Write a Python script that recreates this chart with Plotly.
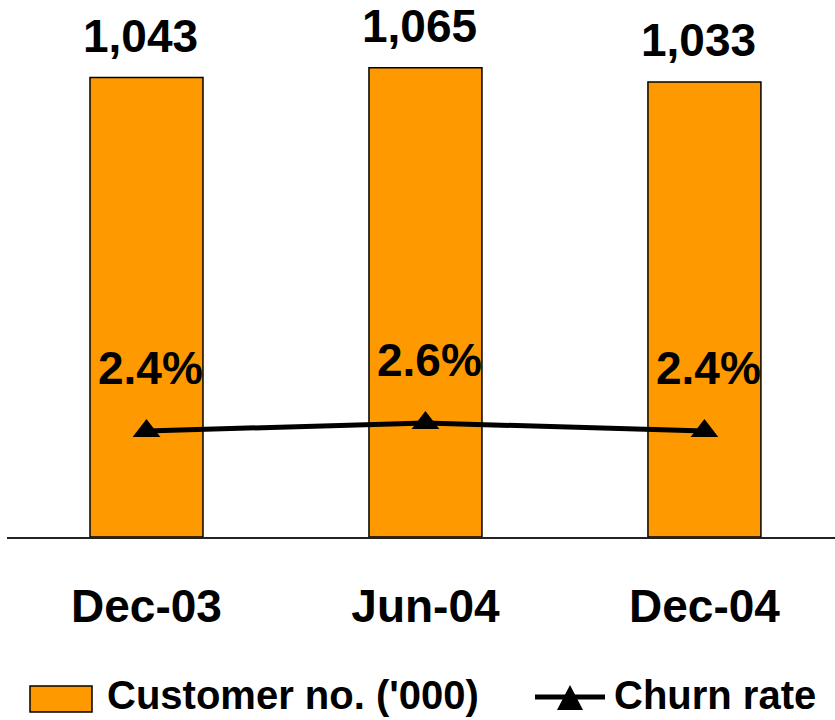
import plotly.graph_objects as go

# Data
periods = ["Dec-03", "Jun-04", "Dec-04"]
customers = [1043, 1065, 1033]          # '000
churn_rate = [2.4, 2.6, 2.4]            # %
customer_labels = ["1,043", "1,065", "1,033"]
churn_labels = ["2.4%", "2.6%", "2.4%"]

ORANGE = "#FF9900"
FONT = "Liberation Sans, Arial, sans-serif"

fig = go.Figure()

fig.add_trace(go.Bar(
    x=periods, y=customers, name="Customer no. ('000)",
    marker=dict(color=ORANGE, line=dict(color="black", width=1.5)),
    width=0.405, yaxis="y", showlegend=False,
))

fig.add_trace(go.Scatter(
    x=periods, y=churn_rate, name="Churn rate", mode="lines+markers",
    line=dict(color="black", width=5),
    marker=dict(symbol="triangle-up", size=24, color="black"),
    yaxis="y2", showlegend=False,
))

label_font = dict(family=FONT, size=46, color="black", weight="bold")
annotations = []
for p, v, t in zip(periods, customers, customer_labels):
    annotations.append(dict(x=p, y=v, xref="x", yref="y", text=t, showarrow=False,
                            yanchor="middle", yshift=42, xshift=-6, font=label_font))
for p, v, t in zip(periods, churn_rate, churn_labels):
    annotations.append(dict(x=p, y=v, xref="x", yref="y2", text=t, showarrow=False,
                            yanchor="middle", yshift=63, xshift=4, font=label_font))

# Legend drawn by hand so the swatches can be large
legend_font = dict(family=FONT, size=40, color="black", weight="bold")
legend_text = [("Customer no. ('000)", 105), ("Churn rate", 612)]

W, H = 835, 720
L, R, T, B = 7, 0, 0, 183
pw, ph = W - L - R, H - T - B


def px_x(x):
    return (x - L) / pw


def px_y(y):
    return 1 - (y - T) / ph


for txt, x0 in legend_text:
    annotations.append(dict(x=px_x(x0), y=px_y(695), xref="paper", yref="paper", text=txt,
                            showarrow=False, xanchor="left", yanchor="middle",
                            font=legend_font))

shapes = [
    dict(type="rect", xref="paper", yref="paper",
         x0=px_x(30), x1=px_x(92), y0=px_y(712), y1=px_y(686),
         fillcolor=ORANGE, line=dict(color="black", width=1.5)),
    dict(type="line", xref="paper", yref="paper",
         x0=px_x(535), x1=px_x(605), y0=px_y(697), y1=px_y(697),
         line=dict(color="black", width=5)),
    dict(type="path", xref="paper", yref="paper",
         path="M {} {} L {} {} L {} {} Z".format(px_x(557), px_y(710), px_x(583), px_y(710),
                                                 px_x(570), px_y(685)),
         fillcolor="black", line=dict(color="black", width=0)),
]

fig.update_layout(
    width=W, height=H,
    margin=dict(l=L, r=R, t=T, b=B),
    paper_bgcolor="white", plot_bgcolor="white",
    font=dict(family=FONT, color="black"),
    xaxis=dict(range=[-0.5, 2.468], showline=True, linecolor="#222", linewidth=1.5,
               ticks="", showgrid=False, ticklabelstandoff=28,
               tickfont=dict(family=FONT, size=46, color="black", weight="bold")),
    yaxis=dict(range=[0, 1219], visible=False, showgrid=False, zeroline=False),
    yaxis2=dict(range=[-0.25, 13.175], overlaying="y", visible=False,
                showgrid=False, zeroline=False),
    annotations=annotations,
    shapes=shapes,
    showlegend=False,
)

fig.write_html("out.html")
